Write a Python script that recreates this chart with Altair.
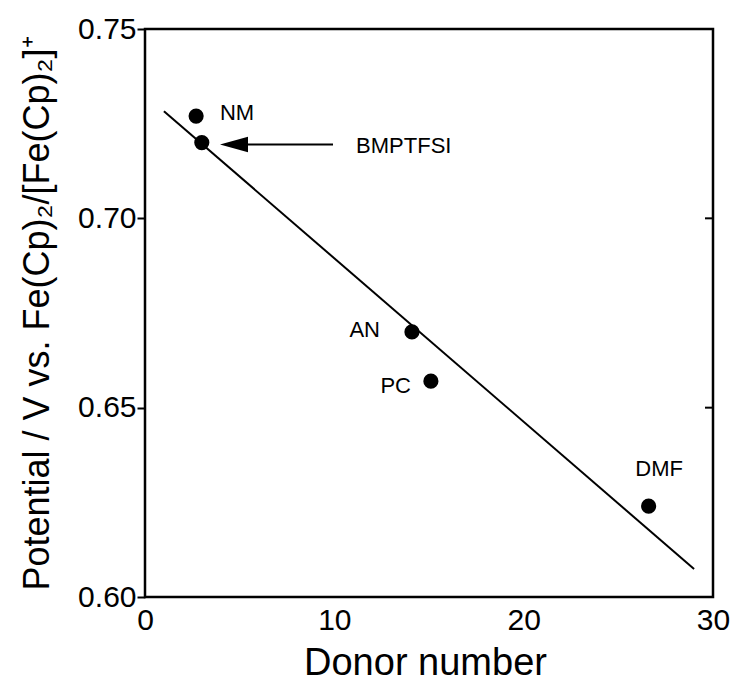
import altair as alt
import pandas as pd

# measured points
solvents = ["NM", "BMPTFSI", "AN", "PC", "DMF"]
donor_number = [2.7, 3.0, 14.1, 15.1, 26.6]
potential = [0.727, 0.720, 0.670, 0.657, 0.624]

# fitted straight line (endpoints)
fit_x = [1.0, 29.0]
fit_y = [0.7283, 0.6074]

# labels
label_text = ["NM", "BMPTFSI", "AN", "PC", "DMF"]
label_x = [3.96, 11.15, 12.41, 14.05, 25.9]
label_y = [0.7278, 0.7190, 0.6705, 0.6557, 0.6338]
label_align = ["left", "left", "right", "right", "left"]

# arrow pointing at BMPTFSI
arrow_tail_x = 9.93
arrow_head_x = 4.70
arrow_y = 0.7195

# tick values
x_ticks = [0, 10, 20, 30]
y_ticks = [0.60, 0.65, 0.70, 0.75]
right_inner_ticks = [0.65, 0.70]

W, H = 568, 568
FONT = "Liberation Sans"

pts = pd.DataFrame({"x": donor_number, "y": potential, "s": solvents})
fit = pd.DataFrame({"x": fit_x, "y": fit_y})
labs = pd.DataFrame({"x": label_x, "y": label_y, "t": label_text, "a": label_align})
arrow_line = pd.DataFrame({"x": [arrow_head_x], "x2": [arrow_tail_x], "y": [arrow_y]})
arrow_head = pd.DataFrame({"x": [arrow_head_x], "y": [arrow_y]})
rt = pd.DataFrame({"y": right_inner_ticks})

xs = alt.Scale(domain=[0, 30], nice=False, zero=False)
ys = alt.Scale(domain=[0.60, 0.75], nice=False, zero=False)

xaxis = alt.Axis(
    values=x_ticks, format="d", title="Donor number",
    grid=False, domain=False, ticks=False, labelPadding=8, labelFlush=False,
    labelFontSize=30, labelFont=FONT, labelColor="black",
    titleFontSize=38, titleFont=FONT, titleFontWeight="normal", titleColor="black",
    titleBaseline="alphabetic", titleY=77, titleX=280,
)
yaxis = alt.Axis(
    values=y_ticks, format=".2f",
    title="Potential / V vs. Fe(Cp)₂/[Fe(Cp)₂]⁺",
    grid=False, domain=False, tickSize=8, tickWidth=2, tickColor="black",
    labelPadding=1, labelFlush=False, labelFontSize=30, labelFont=FONT, labelColor="black",
    titleFontSize=36, titleFont=FONT, titleFontWeight="normal", titleColor="black",
    titleAngle=270, titleBaseline="alphabetic", titleAlign="center",
    titleX=-97, titleY=284,
)

base_x = alt.X("x:Q", scale=xs, axis=xaxis)
base_y = alt.Y("y:Q", scale=ys, axis=yaxis)

line = alt.Chart(fit).mark_line(color="black", strokeWidth=2).encode(x=base_x, y=base_y)

dots = alt.Chart(pts).mark_point(filled=True, color="black", size=230, opacity=1, shape="circle").encode(
    x=alt.X("x:Q", scale=xs), y=alt.Y("y:Q", scale=ys)
)

text_left = alt.Chart(labs[labs.a == "left"]).mark_text(
    align="left", baseline="middle", font=FONT, fontSize=22, color="black"
).encode(x=alt.X("x:Q", scale=xs), y=alt.Y("y:Q", scale=ys), text="t:N")
text_right = alt.Chart(labs[labs.a == "right"]).mark_text(
    align="right", baseline="middle", font=FONT, fontSize=22, color="black"
).encode(x=alt.X("x:Q", scale=xs), y=alt.Y("y:Q", scale=ys), text="t:N")

arrow_shaft = alt.Chart(arrow_line).mark_rule(color="black", strokeWidth=2).encode(
    x=alt.X("x:Q", scale=xs), x2="x2:Q", y=alt.Y("y:Q", scale=ys)
)
arrow_tip = alt.Chart(arrow_head).mark_point(
    shape="M -1 0 L 1 -0.56 L 1 0.56 Z", filled=True, color="black", size=784, opacity=1
).encode(x=alt.X("x:Q", scale=xs), y=alt.Y("y:Q", scale=ys))

right_ticks = alt.Chart(rt).mark_rule(color="black", strokeWidth=2).encode(
    y=alt.Y("y:Q", scale=ys), x=alt.value(W - 8), x2=alt.value(W)
)

chart = alt.layer(line, dots, arrow_shaft, arrow_tip, right_ticks, text_left, text_right).properties(
    width=W, height=H,
    autosize=alt.AutoSizeParams(type="none"),
    padding={"left": 145, "top": 29, "right": 21, "bottom": 91},
    background="white",
).configure_view(stroke="black", strokeWidth=2.5)

chart.save("out.html", embed_options={"renderer": "svg", "actions": False})
